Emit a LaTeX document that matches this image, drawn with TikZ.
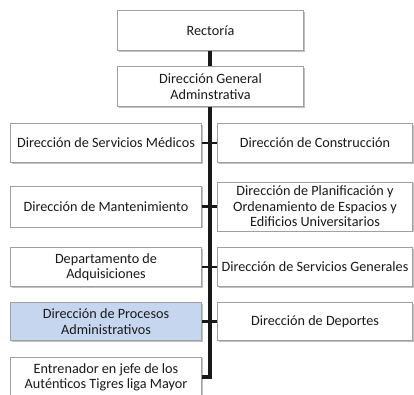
\documentclass[tikz,border=0pt]{standalone}
\usepackage{fontspec}
\setmainfont{Carlito}
\usetikzlibrary{shadows}
\definecolor{boxborder}{HTML}{A0A0A0}
\definecolor{boxblue}{HTML}{C6D6EE}
\definecolor{txt}{HTML}{1A1A1A}
\begin{document}
\begin{tikzpicture}[x=1pt,y=-1pt,
  box/.style={draw=boxborder, line width=0.9pt, fill=white, align=center, text=txt,
    font=\fontsize{14.2}{15.4}\selectfont, inner sep=1pt,
    drop shadow={shadow xshift=1.2pt, shadow yshift=-1.4pt, fill=black!45, opacity=0.55}},
  conn/.style={draw=black!90, line width=3.2pt},
  stub/.style={draw=black!90, line width=2.6pt}]
\useasboundingbox (0,0) rectangle (414,394);
\clip (0,0) rectangle (414,394);
% top boxes
\node[box, minimum width=186pt, minimum height=40pt] (rect) at (210.5,30.5) {Rectoría};
\node[box, minimum width=186pt, minimum height=40pt] (dga) at (210.5,86.5) {Dirección General\\Adminstrativa};
% left column
\node[box, minimum width=191pt, minimum height=39pt] (l1) at (106,143) {Dirección de Servicios Médicos};
\node[box, minimum width=191pt, minimum height=41pt] (l2) at (106,206.5) {Dirección de Mantenimiento};
\node[box, minimum width=191pt, minimum height=39pt] (l3) at (106,267) {Departamento de\\Adquisiciones};
\node[box, minimum width=191pt, minimum height=38pt, fill=boxblue] (l4) at (106,321.5) {Dirección de Procesos\\Administrativos};
\node[box, minimum width=191pt, minimum height=40pt] (l5) at (106,377) {Entrenador en jefe de los\\Auténticos Tigres liga Mayor};
% right column
\node[box, minimum width=195pt, minimum height=39pt] (r1) at (315,143) {Dirección de Construcción};
\node[box, minimum width=195pt, minimum height=49pt] (r2) at (315,206.5) {Dirección de Planificación y\\Ordenamiento de Espacios y\\Edificios Universitarios};
\node[box, minimum width=195pt, minimum height=39pt] (r3) at (315,267) {Dirección de Servicios Generales};
\node[box, minimum width=195pt, minimum height=38pt] (r4) at (315,321.5) {Dirección de Deportes};
% connectors
\coordinate (spine) at (210,0);
\draw[conn] (rect.south -| spine) -- (dga.north -| spine);
\draw[conn, line cap=butt] (dga.south -| spine) -- (l5.east -| spine) -- (l5.east);
\draw[stub] (l1.east) -- (r1.west);
\draw[stub] (l2.east) -- (r2.west);
\draw[stub] (l3.east) -- (r3.west);
\draw[stub] (l4.east) -- (r4.west);
\end{tikzpicture}
\end{document}
